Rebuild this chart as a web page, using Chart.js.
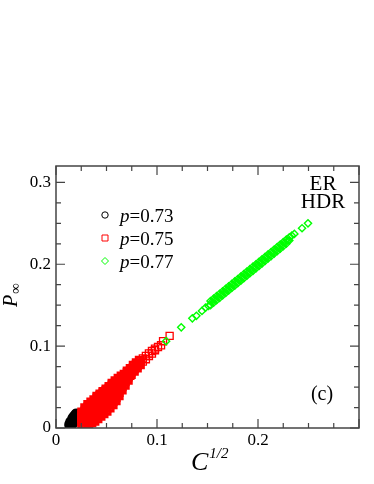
<!DOCTYPE html>
<html>
<head>
<meta charset="utf-8">
<script src="https://cdn.jsdelivr.net/npm/chart.js@4"></script>
<style>
html, body { margin: 0; padding: 0; background: #fff; }
#wrap { width: 374px; height: 484px; }
</style>
</head>
<body>
<div id="wrap"><canvas id="chart" width="374" height="484"></canvas></div>
<script>
// values: [C^(1/2), P_inf]
const blackPts = [
  [0.013,0.003],[0.014,0.002],[0.015,0.003],[0.014,0.005],[0.015,0.006],[0.016,0.005],
  [0.015,0.008],[0.016,0.009],[0.017,0.008],[0.016,0.012],[0.017,0.011],[0.018,0.012],
  [0.017,0.014],[0.018,0.015],[0.019,0.014],[0.019,0.017],[0.020,0.018],[0.020,0.016],
  [0.018,0.009],[0.017,0.005],[0.013,0.005],[0.014,0.008],[0.019,0.010],[0.020,0.013]
];

// dense part of the p=0.75 cloud
const redCore = [
  [0.026,0.004],[0.026,0.008],[0.026,0.012],[0.026,0.016],[0.026,0.019],
  [0.029,0.004],[0.029,0.008],[0.029,0.012],[0.029,0.016],[0.029,0.020],[0.029,0.024],
  [0.032,0.005],[0.032,0.009],[0.032,0.013],[0.032,0.017],[0.032,0.021],[0.032,0.025],[0.032,0.028],
  [0.035,0.007],[0.035,0.011],[0.035,0.015],[0.035,0.019],[0.035,0.023],[0.035,0.027],[0.035,0.031],
  [0.038,0.009],[0.038,0.013],[0.038,0.017],[0.038,0.021],[0.038,0.025],[0.038,0.029],[0.038,0.034],
  [0.041,0.012],[0.041,0.016],[0.041,0.020],[0.041,0.024],[0.041,0.028],[0.041,0.032],[0.041,0.036],[0.041,0.038],
  [0.044,0.015],[0.044,0.019],[0.044,0.023],[0.044,0.027],[0.044,0.031],[0.044,0.035],[0.044,0.039],[0.044,0.041],
  [0.047,0.018],[0.047,0.022],[0.047,0.026],[0.047,0.030],[0.047,0.034],[0.047,0.038],[0.047,0.042],[0.047,0.044],
  [0.050,0.021],[0.050,0.025],[0.050,0.029],[0.050,0.033],[0.050,0.037],[0.050,0.041],[0.050,0.045],[0.050,0.047],
  [0.053,0.025],[0.053,0.029],[0.053,0.033],[0.053,0.037],[0.053,0.041],[0.053,0.045],[0.053,0.048],[0.053,0.050],
  [0.056,0.029],[0.056,0.033],[0.056,0.037],[0.056,0.041],[0.056,0.045],[0.056,0.049],[0.056,0.052],[0.056,0.054],
  [0.059,0.034],[0.059,0.038],[0.059,0.042],[0.059,0.046],[0.059,0.050],[0.059,0.054],[0.059,0.057],
  [0.062,0.040],[0.062,0.044],[0.062,0.048],[0.062,0.052],[0.062,0.056],[0.062,0.060],
  [0.065,0.047],[0.065,0.051],[0.065,0.055],[0.065,0.059],[0.065,0.063],
  [0.068,0.053],[0.068,0.057],[0.068,0.061],[0.068,0.065],
  [0.071,0.059],[0.071,0.063],[0.071,0.067],[0.071,0.069],
  [0.074,0.066],[0.074,0.069],[0.074,0.072],
  [0.077,0.070],[0.077,0.073],[0.077,0.076],
  [0.080,0.074],[0.080,0.077],[0.080,0.079],
  [0.083,0.078],[0.083,0.082]
];

// isolated p=0.75 points on the upper end of the cloud
const redSparse = [
  [0.086,0.081],[0.086,0.085],[0.089,0.084],[0.089,0.088],[0.092,0.088],[0.092,0.091],
  [0.095,0.091],[0.095,0.094],[0.098,0.095],[0.098,0.097],
  [0.101,0.099],[0.104,0.101],[0.106,0.106],[0.1125,0.1125],
  [0.0736,0.0638]
];

const greenPts = [
  [0.109,0.106],[0.124,0.123],[0.135,0.134],[0.139,0.137],[0.1445,0.143],[0.148,0.147],[0.151,0.149],
  [0.153,0.150],[0.153,0.155],[0.156,0.153],[0.156,0.158],[0.159,0.156],[0.159,0.161],
  [0.162,0.159],[0.162,0.164],[0.165,0.162],[0.165,0.167],[0.168,0.165],[0.168,0.170],
  [0.171,0.168],[0.171,0.173],[0.174,0.171],[0.174,0.176],[0.177,0.174],[0.177,0.179],
  [0.180,0.177],[0.180,0.182],[0.183,0.180],[0.183,0.185],[0.186,0.183],[0.186,0.188],
  [0.189,0.186],[0.189,0.191],[0.192,0.189],[0.192,0.194],[0.195,0.192],[0.195,0.197],
  [0.198,0.195],[0.198,0.200],[0.201,0.198],[0.201,0.203],[0.204,0.201],[0.204,0.206],
  [0.207,0.204],[0.207,0.209],[0.210,0.207],[0.210,0.212],[0.213,0.210],[0.213,0.215],
  [0.216,0.213],[0.216,0.218],[0.219,0.216],[0.219,0.221],[0.222,0.219],[0.222,0.224],
  [0.225,0.222],[0.225,0.227],[0.228,0.225],[0.228,0.230],[0.231,0.229],[0.231,0.233],
  [0.1545,0.154],[0.1575,0.157],[0.1605,0.160],[0.1635,0.163],[0.1665,0.166],[0.1695,0.169],
  [0.1725,0.172],[0.1755,0.175],[0.1785,0.178],[0.1815,0.181],[0.1845,0.184],[0.1875,0.187],
  [0.1905,0.190],[0.1935,0.193],[0.1965,0.196],[0.1995,0.199],[0.2025,0.202],[0.2055,0.205],
  [0.2085,0.208],[0.2115,0.211],[0.2145,0.214],[0.2175,0.217],[0.2205,0.220],[0.2235,0.223],
  [0.2265,0.226],[0.2295,0.229],
  [0.2335,0.235],[0.236,0.237],[0.2436,0.244],[0.2495,0.250]
];

const seriesNames = ["0.73", "0.75", "0.77"];
const seriesColors = ["#000000", "#ff0000", "#00ff00"];
const xLabelTicks = [0, 0.1, 0.2];
const yLabelTicks = [0, 0.1, 0.2, 0.3];
const xTitle = "C";
const xTitleSup = "1/2";
const yTitle = "P";
const yTitleSub = "\u221E";

const serif = "'Liberation Serif', 'DejaVu Serif', serif";

function inList(list, v) {
  return list.some(m => Math.abs(m - v) < 1e-9);
}
function isMajor(v) {
  return Math.abs(v * 10 - Math.round(v * 10)) < 1e-6;
}
function isMinor(v) {
  return Math.abs(v / 0.025 - Math.round(v / 0.025)) < 1e-6;
}

// frame, inward ticks on all four sides, titles, legend and panel labels
const decorPlugin = {
  id: "decor",
  afterDraw(chart) {
    const ctx = chart.ctx;
    const a = chart.chartArea;
    const xs = chart.scales.x, ys = chart.scales.y;
    ctx.save();
    ctx.strokeStyle = "#444";
    ctx.lineWidth = 1.5;
    ctx.strokeRect(a.left, a.top, a.right - a.left, a.bottom - a.top);

    ctx.lineWidth = 1.2;
    xs.ticks.forEach(t => {
      if (!isMinor(t.value)) return;
      const px = xs.getPixelForValue(t.value);
      const len = isMajor(t.value) ? 9 : 5;
      ctx.beginPath();
      ctx.moveTo(px, a.bottom); ctx.lineTo(px, a.bottom - len);
      ctx.moveTo(px, a.top); ctx.lineTo(px, a.top + len);
      ctx.stroke();
    });
    ys.ticks.forEach(t => {
      if (!isMinor(t.value)) return;
      const py = ys.getPixelForValue(t.value);
      const len = isMajor(t.value) ? 9 : 5;
      ctx.beginPath();
      ctx.moveTo(a.left, py); ctx.lineTo(a.left + len, py);
      ctx.moveTo(a.right, py); ctx.lineTo(a.right - len, py);
      ctx.stroke();
    });

    ctx.fillStyle = "#000";
    ctx.textBaseline = "alphabetic";

    // x title
    ctx.textAlign = "left";
    ctx.font = "italic 26px " + serif;
    ctx.fillText(xTitle, 191, 470);
    const cw = ctx.measureText(xTitle).width;
    ctx.font = "italic 15px " + serif;
    ctx.fillText(xTitleSup, 191 + cw + 1, 458);

    // y title
    ctx.save();
    ctx.translate(17, 307);
    ctx.rotate(-Math.PI / 2);
    ctx.font = "italic 20px " + serif;
    ctx.fillText(yTitle, 0, 0);
    const pw = ctx.measureText(yTitle).width;
    ctx.font = "15px " + serif;
    ctx.fillText(yTitleSub, pw + 1, 3);
    ctx.restore();

    // legend
    const rows = [215, 238, 261];
    rows.forEach((y, i) => {
      const mx = 105;
      ctx.strokeStyle = seriesColors[i];
      ctx.lineWidth = 1;
      ctx.beginPath();
      if (i === 0) {
        ctx.arc(mx, y, 3.2, 0, Math.PI * 2);
      } else if (i === 1) {
        ctx.rect(mx - 3, y - 3, 6, 6);
      } else {
        ctx.moveTo(mx - 3.5, y); ctx.lineTo(mx, y - 3.5);
        ctx.lineTo(mx + 3.5, y); ctx.lineTo(mx, y + 3.5);
        ctx.closePath();
      }
      ctx.stroke();
      ctx.fillStyle = "#000";
      ctx.font = "italic 19px " + serif;
      ctx.fillText("p", 120, y + 7);
      const w = ctx.measureText("p").width;
      ctx.font = "19px " + serif;
      ctx.fillText("=" + seriesNames[i], 120 + w, y + 7);
    });

    // panel labels
    ctx.textAlign = "center";
    ctx.font = "21px " + serif;
    ctx.fillText("ER", 323, 190);
    ctx.fillText("HDR", 323, 208);
    ctx.font = "20px " + serif;
    ctx.fillText("(c)", 322, 400);
    ctx.restore();
  }
};

const toXY = arr => arr.map(p => ({ x: p[0], y: p[1] }));

const fmt = v => (Math.abs(v) < 1e-9 ? "0" : String(Math.round(v * 10) / 10));
const xTickLabel = v => (inList(xLabelTicks, v) ? fmt(v) : "");
const yTickLabel = v => (inList(yLabelTicks, v) ? fmt(v) : "");

const redAll = redCore.concat(redSparse);
// thick outlines where the cloud is dense, thin for the isolated squares
const redBorder = redCore.map(() => 3).concat(redSparse.map(() => 1.3));

new Chart(document.getElementById("chart"), {
  type: "scatter",
  data: {
    // green listed first so it is drawn on top
    datasets: [
      {
        label: "p=" + seriesNames[2],
        data: toXY(greenPts),
        pointStyle: "rectRot",
        pointRadius: 3.6,
        borderColor: seriesColors[2],
        backgroundColor: "rgba(0,0,0,0)",
        borderWidth: 1.4
      },
      {
        label: "p=" + seriesNames[1],
        data: toXY(redAll),
        pointStyle: "rect",
        pointRadius: 5,
        borderColor: seriesColors[1],
        backgroundColor: "rgba(0,0,0,0)",
        borderWidth: redBorder
      },
      {
        label: "p=" + seriesNames[0],
        data: toXY(blackPts),
        pointStyle: "circle",
        pointRadius: 3.8,
        borderColor: seriesColors[0],
        backgroundColor: "rgba(0,0,0,0)",
        borderWidth: 2
      }
    ]
  },
  options: {
    responsive: false,
    animation: false,
    events: [],
    layout: { padding: { top: 166, right: 15, left: 0, bottom: 0 } },
    plugins: {
      legend: { display: false },
      tooltip: { enabled: false }
    },
    scales: {
      x: {
        type: "linear",
        min: 0,
        max: 0.3,
        afterFit(s) { s.height = 56; },
        grid: { display: false, drawTicks: false },
        border: { display: false },
        ticks: {
          stepSize: 0.025,
          maxTicksLimit: 40,
          includeBounds: false,
          autoSkip: false,
          maxRotation: 0,
          padding: 2,
          color: "#000",
          font: { family: serif, size: 17 },
          callback: xTickLabel
        }
      },
      y: {
        type: "linear",
        min: 0,
        max: 0.32,
        afterFit(s) { s.width = 56; },
        grid: { display: false, drawTicks: false },
        border: { display: false },
        ticks: {
          stepSize: 0.025,
          maxTicksLimit: 40,
          includeBounds: false,
          autoSkip: false,
          padding: 5,
          color: "#000",
          font: { family: serif, size: 17 },
          callback: yTickLabel
        }
      }
    }
  },
  plugins: [decorPlugin]
});
</script>
</body>
</html>
